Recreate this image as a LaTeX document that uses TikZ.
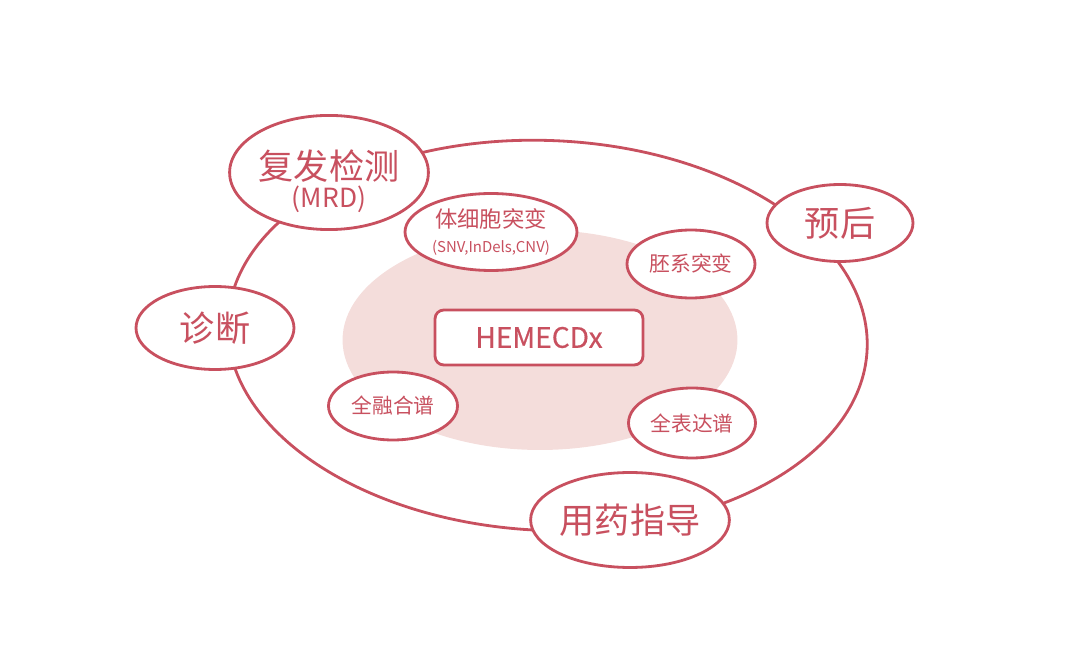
\documentclass[tikz,border=0pt]{standalone}
\usepackage{fontspec}
\setmainfont{Noto Sans CJK SC}
\newfontfamily\hemeMedium{Noto Sans CJK SC}[FakeBold=0.5]
\usetikzlibrary{shapes.geometric,backgrounds}
\definecolor{hemeRed}{HTML}{C8505F}
\definecolor{hemePink}{HTML}{F4DDDB}
\tikzset{
	hemebox/.style={
		draw=hemeRed,
		line width=1.6pt,
		text=hemeRed,
		align=center,
		inner sep=0pt
	},
	hemeRing/.style={hemebox, ellipse},
	hemeCore/.style={ellipse, fill=hemePink, inner sep=0pt},
	hemeOuter/.style={hemebox, ellipse, fill=white, font=\fontsize{20}{22}\selectfont},
	hemeInner/.style={hemebox, ellipse, fill=white, font=\fontsize{11.8}{14}\selectfont},
	hemeKernel/.style={hemebox, rectangle, rounded corners=5pt, fill=white, font=\hemeMedium\fontsize{16}{18}\selectfont}
}

\begin{document}
\begin{tikzpicture}[x=0.02cm, y=-0.02cm]

	\useasboundingbox (0,0) rectangle (1080,672);

	% Core panel and centre
	\node[hemeKernel, minimum width=4.16cm, minimum height=1.1cm] (hemecdx) at (539,337.5) {HEMECDx};

	% Inner tests
	\node[hemeInner, minimum width=3.44cm, minimum height=1.54cm] (somatic) at (491,232)
	{\fontsize{12.7}{16}\selectfont 体细胞突变\\[0pt]{\fontsize{8.5}{10}\selectfont (SNV,InDels,CNV)}};
	\node[hemeInner, minimum width=2.56cm, minimum height=1.36cm] (germline) at (691,264) {胚系突变};
	\node[hemeInner, minimum width=2.58cm, minimum height=1.36cm] (fusion) at (393,406) {全融合谱};
	\node[hemeInner, minimum width=2.54cm, minimum height=1.4cm] (expression) at (692,423) {全表达谱};

	% Outer applications
	\node[hemeOuter, minimum width=3.72cm, minimum height=1.98cm] (mrd) at (329,172.5)
	{\rule{0pt}{27pt}复发检测\\[-6pt]{\fontsize{15}{17}\selectfont (MRD)}};
	\node[hemeOuter, minimum width=2.92cm, minimum height=1.54cm] (prognosis) at (840,223) {预后};
	\node[hemeOuter, minimum width=3.16cm, minimum height=1.66cm] (diagnosis) at (215,328) {诊断};
	\node[hemeOuter, minimum width=3.68cm, minimum height=1.9cm] (therapy) at (630,520) {用药指导};

	% Ring and core
	\begin{scope}[on background layer]
		\node[hemeCore, minimum width=7.9cm, minimum height=4.4cm] (core) at (540,340) {};
		\node[hemeRing, rotate=-2.5, minimum width=12.8cm, minimum height=7.8cm] (ring) at (547.5,335.5) {};
	\end{scope}

\end{tikzpicture}
\end{document}
